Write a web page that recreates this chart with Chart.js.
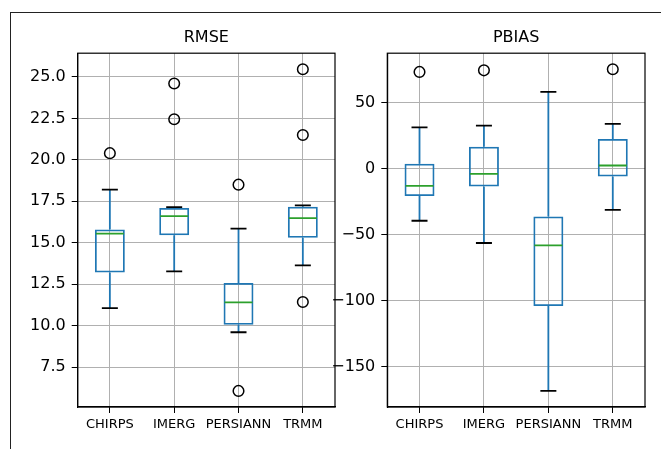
<!DOCTYPE html>
<html>
<head>
<meta charset="utf-8">
<script src="https://cdn.jsdelivr.net/npm/chart.js@4.4.1/dist/chart.umd.min.js"></script>
<style>
    body { margin: 0; background: #fff; }
    #wrap { position: relative; width: 661px; height: 449px; overflow: hidden; }
    #frame { position: absolute; left: 10px; top: 12px; width: 700px; height: 500px; border: 1.3px solid #222; }
    canvas { position: absolute; left: 0; top: 0; }
</style>
</head>
<body>
<div id="wrap">
    <div id="frame"></div>
    <canvas id="rmseChart" width="661" height="449"></canvas>
    <canvas id="pbiasChart" width="661" height="449"></canvas>
</div>
<script>
(function () {
    "use strict";

    const products = ['CHIRPS', 'IMERG', 'PERSIANN', 'TRMM'];

    // RMSE box stats, one entry per product
    const rmseLow = [11.05, 13.27, 9.6, 13.63];
    const rmseQ1 = [13.2, 15.45, 10.05, 15.3];
    const rmseMedian = [15.55, 16.6, 11.4, 16.48];
    const rmseQ3 = [15.8, 17.1, 12.57, 17.17];
    const rmseHigh = [18.2, 17.15, 15.85, 17.25];
    const rmseOutliers = [[20.4], [24.6, 22.45], [18.5, 6.06], [25.46, 21.5, 11.42]];
    const rmseTicks = [7.5, 10, 12.5, 15, 17.5, 20, 22.5, 25];

    // PBIAS box stats
    const pbiasLow = [-39.4, -56.3, -168.5, -31.1];
    const pbiasQ1 = [-20.7, -13.4, -104.1, -5.8];
    const pbiasMedian = [-12.9, -3.8, -58.1, 2.5];
    const pbiasQ3 = [3.8, 16.7, -36.1, 22.7];
    const pbiasHigh = [31.5, 32.8, 58.3, 34.1];
    const pbiasOutliers = [[73.5], [74.7], [], [75.5]];
    const pbiasTicks = [-150, -100, -50, 0, 50];

    const BLUE = '#1f77b4';
    const GREEN = '#2ca02c';
    const GRID = '#b0b0b0';

    Chart.defaults.font.family = "'DejaVu Sans', sans-serif";
    Chart.defaults.color = '#000';

    // matplotlib draws all four spines, chart.js only left + bottom
    const spines = {
        id: 'spines',
        afterDraw(chart) {
            const a = chart.chartArea;
            const ctx = chart.ctx;
            ctx.save();
            ctx.strokeStyle = '#000';
            ctx.lineWidth = 1.2;
            ctx.strokeRect(a.left, a.top, a.right - a.left, a.bottom - a.top);
            ctx.restore();
        }
    };

    function boxChart(id, title, s, ticks, fmt, padLeft, padRight) {
        // axis limits like matplotlib: data range + 5%
        let all = s.low.concat(s.high);
        s.out.forEach(o => { all = all.concat(o); });
        const lo = Math.min.apply(null, all);
        const hi = Math.max.apply(null, all);
        const margin = (hi - lo) * 0.05;

        let fliers = [];
        s.out.forEach((o, i) => {
            o.forEach(v => fliers.push({ x: products[i], y: v }));
        });

        const capStyle = {
            type: 'line', showLine: false, pointStyle: 'line',
            pointRadius: 8, borderColor: '#000', borderWidth: 1.8
        };

        return new Chart(document.getElementById(id), {
            type: 'bar',
            data: {
                labels: products,
                datasets: [
                    {
                        data: s.median, type: 'line', showLine: false, pointStyle: 'line',
                        pointRadius: 14, borderColor: GREEN, borderWidth: 1.8
                    },
                    {
                        data: fliers, type: 'line', showLine: false, pointStyle: 'circle',
                        pointRadius: 5.3, borderColor: '#000', backgroundColor: 'rgba(0,0,0,0)', borderWidth: 1.5
                    },
                    Object.assign({ data: s.low }, capStyle),
                    Object.assign({ data: s.high }, capStyle),
                    {
                        data: products.map((p, i) => [s.q1[i], s.q3[i]]),
                        backgroundColor: 'rgba(0,0,0,0)', borderColor: BLUE, borderWidth: 1.8,
                        borderSkipped: false, barPercentage: 0.465, categoryPercentage: 1, grouped: false
                    },
                    {
                        data: products.map((p, i) => [s.low[i], s.q1[i]]),
                        backgroundColor: BLUE, borderWidth: 0,
                        barPercentage: 0.028, categoryPercentage: 1, grouped: false
                    },
                    {
                        data: products.map((p, i) => [s.q3[i], s.high[i]]),
                        backgroundColor: BLUE, borderWidth: 0,
                        barPercentage: 0.028, categoryPercentage: 1, grouped: false
                    }
                ]
            },
            options: {
                responsive: false,
                animation: false,
                events: [],
                layout: { padding: { left: padLeft, right: padRight, top: 0, bottom: 0 } },
                plugins: {
                    legend: { display: false },
                    tooltip: { enabled: false },
                    title: {
                        display: true, text: title, fullSize: false, color: '#000',
                        font: { size: 16, weight: 'normal' },
                        padding: { top: 28.5, bottom: 5.5 }
                    }
                },
                scales: {
                    x: {
                        offset: true,
                        grid: { color: GRID, offset: false, tickColor: '#000', tickLength: 6, lineWidth: 1 },
                        border: { color: '#000', width: 1.2 },
                        ticks: { color: '#000', font: { size: 13 }, padding: 4, maxRotation: 0, autoSkip: false },
                        afterFit: function (sc) { sc.height = 42; }
                    },
                    y: {
                        min: lo - margin,
                        max: hi + margin,
                        afterBuildTicks: function (sc) { sc.ticks = ticks.map(v => ({ value: v })); },
                        grid: { color: GRID, tickColor: '#000', tickLength: 6, lineWidth: 1 },
                        border: { color: '#000', width: 1.2 },
                        ticks: { color: '#000', font: { size: 16 }, padding: 6, callback: fmt },
                        afterFit: function (sc) { sc.width = 60; }
                    }
                }
            },
            plugins: [spines]
        });
    }

    boxChart('rmseChart', 'RMSE', {
        low: rmseLow, q1: rmseQ1, median: rmseMedian, q3: rmseQ3, high: rmseHigh, out: rmseOutliers
    }, rmseTicks, v => v.toFixed(1), 17.7, 326);

    boxChart('pbiasChart', 'PBIAS', {
        low: pbiasLow, q1: pbiasQ1, median: pbiasMedian, q3: pbiasQ3, high: pbiasHigh, out: pbiasOutliers
    }, pbiasTicks, v => (v < 0 ? '\u2212' + Math.abs(v) : String(v)), 327.3, 16);
})();
</script>
</body>
</html>
